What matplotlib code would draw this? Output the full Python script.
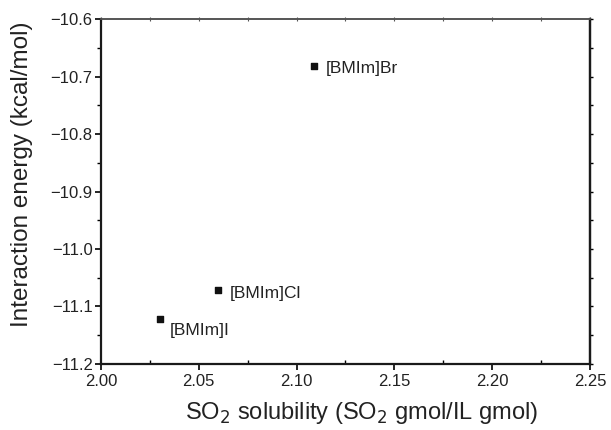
import matplotlib
matplotlib.use("Agg")
import matplotlib.pyplot as plt
from matplotlib.ticker import MultipleLocator

plt.rcParams['font.family'] = ['Liberation Sans', 'DejaVu Sans']

# datos
liquidos = ['[BMIm]Br', '[BMIm]Cl', '[BMIm]I']
solubilidad = [2.109, 2.060, 2.030]
energia = [-10.681, -11.072, -11.122]
# desplazamiento de cada etiqueta (puntos)
desplaz = [(8, -2), (8, -2), (7, -8)]

fig = plt.figure(figsize=(6.11, 4.30), dpi=100)
ax = fig.add_axes([0.1653, 0.1535, 0.8003, 0.8023])

ax.scatter(solubilidad, energia, marker='s', s=20, color='#111111', zorder=3)
for nombre, x, y, d in zip(liquidos, solubilidad, energia, desplaz):
    ax.annotate(nombre, (x, y), xytext=d, textcoords='offset points',
                fontsize=12.5, color='#222222', va='center', ha='left')

ax.set_xlim(2.00, 2.25)
ax.set_ylim(-11.2, -10.6)
ax.xaxis.set_major_locator(MultipleLocator(0.05))
ax.xaxis.set_minor_locator(MultipleLocator(0.025))
ax.yaxis.set_major_locator(MultipleLocator(0.1))
ax.yaxis.set_minor_locator(MultipleLocator(0.05))
ax.xaxis.set_major_formatter(plt.FormatStrFormatter('%.2f'))
ax.yaxis.set_major_formatter(plt.FuncFormatter(lambda v, p: ('%.1f' % v).replace('-', '\u2212')))

ax.tick_params(axis='x', which='major', direction='out', length=4, width=1.2,
               labelsize=12, labelcolor='#222222', pad=3)
ax.tick_params(axis='x', which='minor', direction='in', length=3, width=1)
ax.tick_params(axis='y', which='major', direction='out', length=4, width=1.2,
               labelsize=12, labelcolor='#222222', pad=2)
ax.tick_params(axis='y', which='minor', direction='out', length=3, width=1)

# ejes secundarios: solo marcas cortas
ax2 = ax.secondary_xaxis('top')
ax2.xaxis.set_major_locator(MultipleLocator(0.025))
ax2.tick_params(direction='inout', length=3, width=0.8, labeltop=False, color='#555555')
ax2.spines['top'].set_linewidth(1.2)
ax2.spines['top'].set_color('#555555')
ay2 = ax.secondary_yaxis('right')
ay2.yaxis.set_major_locator(MultipleLocator(0.05))
ay2.tick_params(direction='out', length=2, width=1, labelright=False)
ay2.spines['right'].set_linewidth(1.6)
ay2.spines['right'].set_color('#1a1a1a')

for lado in ['left', 'bottom', 'right']:
    ax.spines[lado].set_linewidth(1.6)
    ax.spines[lado].set_color('#1a1a1a')
ax.spines['top'].set_linewidth(1.2)
ax.spines['top'].set_color('#555555')

ax.set_xlabel('SO$_2$ solubility (SO$_2$ gmol/IL gmol)', fontsize=17, color='#222222', labelpad=11)
ax.xaxis.set_label_coords(0.532, -0.105, transform=ax.transAxes)
ax.xaxis.label.set_va('top')
ax.set_ylabel('Interaction energy (kcal/mol)', fontsize=17.5, color='#222222')
ax.yaxis.set_label_coords(-0.139, 0.55)

fig.savefig('out.png', dpi=100)
